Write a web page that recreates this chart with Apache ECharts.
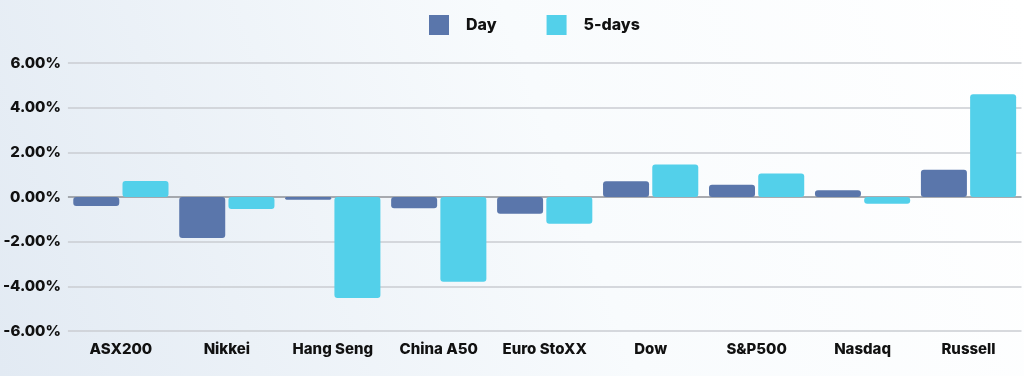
<!DOCTYPE html>
<html>
<head>
<meta charset="utf-8">
<script src="https://cdn.jsdelivr.net/npm/echarts@6/dist/echarts.min.js"></script>
<style>
  html, body { margin: 0; padding: 0; }
  #chart-wrap { width: 1024px; height: 376px; }
</style>
</head>
<body>
<div id="chart-wrap"></div>
<script>
var categories = ["ASX200", "Nikkei", "Hang Seng", "China A50", "Euro StoXX", "Dow", "S&P500", "Nasdaq", "Russell"];
var dayValues = [-0.40, -1.84, -0.12, -0.50, -0.75, 0.70, 0.55, 0.30, 1.22];
var fiveDayValues = [0.72, -0.54, -4.52, -3.80, -1.20, 1.45, 1.05, -0.30, 4.60];
var seriesNames = ["Day", "5-days"];

var fontFamily = "Inter, 'Open Sans', sans-serif";
var chart = echarts.init(document.getElementById('chart-wrap'));

var option = {
    backgroundColor: {
        type: 'linear',
        x: 0, y: 1, x2: 1, y2: 0,
        colorStops: [
            { offset: 0, color: '#e2eaf3' },
            { offset: 0.55, color: '#f8fbfd' },
            { offset: 1, color: '#ffffff' }
        ]
    },
    animation: false,
    legend: {
        top: 10,
        left: 424,
        itemWidth: 20,
        itemHeight: 20,
        itemGap: 50,
        icon: 'rect',
        data: seriesNames,
        textStyle: {
            fontFamily: fontFamily,
            fontWeight: 800,
            fontSize: 16,
            color: '#111',
            padding: [0, 0, 0, 12]
        }
    },
    grid: {
        left: 66.5,
        right: 2.5,
        top: 63,
        bottom: 45
    },
    xAxis: {
        type: 'category',
        data: categories,
        axisLine: { show: false },
        axisTick: { show: false },
        axisLabel: {
            interval: 0,
            margin: 11,
            color: '#111',
            fontFamily: fontFamily,
            fontWeight: 800,
            fontSize: 15
        }
    },
    yAxis: {
        type: 'value',
        min: -6,
        max: 6,
        interval: 2,
        axisLine: { show: false },
        axisTick: { show: false },
        axisLabel: {
            margin: 7,
            color: '#111',
            fontFamily: fontFamily,
            fontWeight: 800,
            fontSize: 15,
            formatter: function (v) { return v.toFixed(2) + '%'; }
        },
        splitLine: {
            lineStyle: {
                width: 1.5,
                color: ['#cacdd2', '#cacdd2', '#cacdd2', '#8e9196', '#cacdd2', '#cacdd2', '#cacdd2']
            }
        }
    },
    series: [
        {
            name: seriesNames[0],
            type: 'bar',
            data: dayValues,
            barWidth: 46,
            barGap: '7%',
            itemStyle: { color: '#5a76ab', borderRadius: 3 }
        },
        {
            name: seriesNames[1],
            type: 'bar',
            data: fiveDayValues,
            barWidth: 46,
            barGap: '7%',
            itemStyle: { color: '#53d0ea', borderRadius: 3 }
        }
    ]
};

chart.setOption(option);
window.addEventListener('resize', function () {
    chart.resize();
});
</script>
</body>
</html>
